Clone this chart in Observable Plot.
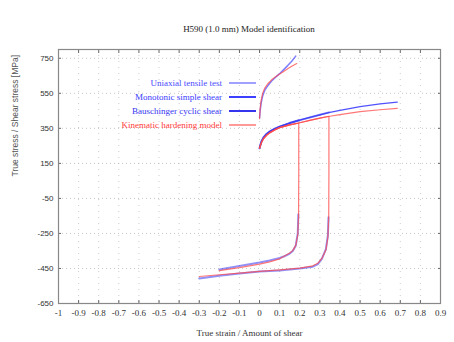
<!DOCTYPE html>
<html>
<head>
<meta charset="utf-8">
<script src="https://cdn.jsdelivr.net/npm/d3@7"></script>
<script src="https://cdn.jsdelivr.net/npm/@observablehq/plot@0.6"></script>
<style>
  body { margin: 0; background: #fff; width: 454px; height: 342px; overflow: hidden; }
  #wrap { position: relative; width: 454px; height: 342px; }
  #title { position: absolute; left: 0; width: 498px; top: 24px; text-align: center;
           font-family: "Liberation Serif", serif; font-size: 9px; color: #222; }
  #chart { position: absolute; left: 0; top: 40px; }
  #legend { position: absolute; left: 0; top: 0; width: 454px; height: 342px; pointer-events: none; }
  .lg { position: absolute; font-family: "Liberation Serif", serif; font-size: 9px; }
  .lg span.t { position: absolute; white-space: nowrap; transform: translateY(-50%); }
  .lg span.l { position: absolute; left: 229px; width: 27px; }
</style>
</head>
<body>
<div id="wrap">
  <div id="title">H590 (1.0 mm) Model identification</div>
  <div id="chart"></div>
  <div id="legend"></div>
</div>
<script>
// ---- tick values ----
const xTicks = [-1, -0.9, -0.8, -0.7, -0.6, -0.5, -0.4, -0.3, -0.2, -0.1, 0, 0.1, 0.2, 0.3, 0.4, 0.5, 0.6, 0.7, 0.8, 0.9];
const yTicks = [750, 550, 350, 150, -50, -250, -450, -650];

// ---- Uniaxial tensile test (experiment) ----
const tensileX = [0, 0.003, 0.008, 0.015, 0.025, 0.04, 0.06, 0.08, 0.1, 0.12, 0.14, 0.16, 0.18];
const tensileY = [410, 450, 495, 533, 565, 592, 620, 642, 662, 685, 708, 733, 762];
// ---- Kinematic hardening model, tensile ----
const modelTensileX = [0, 0.003, 0.008, 0.015, 0.025, 0.04, 0.06, 0.08, 0.1, 0.12, 0.14, 0.16, 0.185];
const modelTensileY = [405, 465, 510, 548, 578, 603, 627, 645, 660, 675, 690, 704, 720];

// ---- Monotonic simple shear (experiment) ----
const monoX = [0, 0.005, 0.01, 0.02, 0.035, 0.05, 0.075, 0.1, 0.15, 0.2, 0.25, 0.3, 0.35, 0.4, 0.5, 0.6, 0.685];
const monoY = [236, 258, 276, 298, 318, 331, 347, 360, 380, 397, 412, 427, 441, 452, 474, 489, 500];
// ---- Kinematic hardening model, monotonic shear ----
const modelMonoY = [236, 255, 270, 292, 310, 324, 341, 354, 370, 382, 395, 408, 419, 428, 445, 456, 464];

// ---- Bauschinger cyclic shear (experiment) ----
const cyc1LoadX = [0, 0.005, 0.01, 0.02, 0.035, 0.05, 0.075, 0.1, 0.15, 0.195];
const cyc1LoadY = [236, 258, 276, 298, 318, 331, 347, 360, 380, 396];
const cyc1RevX = [0.193, 0.19, 0.18, 0.165, 0.15, 0.12, 0.1, 0.05, 0, -0.05, -0.1, -0.15, -0.2];
const cyc1RevY = [-141, -250, -320, -350, -365, -382, -390, -404, -416, -426, -436, -446, -456];
const cyc2LoadX = [0, 0.005, 0.01, 0.02, 0.035, 0.05, 0.075, 0.1, 0.15, 0.2, 0.25, 0.3, 0.345];
const cyc2LoadY = [236, 258, 276, 298, 318, 331, 347, 360, 380, 397, 412, 427, 441];
const cyc2RevX = [0.343, 0.34, 0.33, 0.31, 0.29, 0.265, 0.2, 0.1, 0, -0.1, -0.2, -0.3];
const cyc2RevY = [-158, -260, -340, -395, -425, -440, -450, -461, -468, -479, -491, -507];

// ---- Kinematic hardening model, cyclic shear ----
const mod1X = [0, 0.005, 0.01, 0.02, 0.035, 0.05, 0.075, 0.1, 0.15, 0.195, 0.195, 0.194, 0.19, 0.18, 0.165, 0.15, 0.12, 0.1, 0.05, 0, -0.1, -0.2];
const mod1Y = [236, 255, 270, 292, 310, 324, 341, 354, 370, 379, 100, -150, -260, -318, -348, -362, -382, -395, -412, -425, -445, -462];
const mod2X = [0, 0.005, 0.01, 0.02, 0.035, 0.05, 0.075, 0.1, 0.15, 0.2, 0.25, 0.3, 0.345, 0.345, 0.344, 0.34, 0.33, 0.31, 0.29, 0.265, 0.2, 0.1, 0, -0.1, -0.2, -0.3];
const mod2Y = [236, 255, 270, 292, 310, 324, 341, 354, 370, 382, 395, 408, 419, 100, -150, -270, -345, -393, -420, -435, -448, -458, -467, -477, -486, -496];

const seriesNames = ["Uniaxial tensile test", "Monotonic simple shear", "Bauschinger cyclic shear", "Kinematic hardening model"];
const seriesColors = ["#6f6fff", "#3f3fff", "#3535f0", "#ff4a4a"];

function pts(xs, ys, id) { return xs.map((x, i) => ({x, y: ys[i], id})); }

const modelData = [
  ...pts(modelTensileX, modelTensileY, "mt"),
  ...pts(monoX, modelMonoY, "mm"),
  ...pts(mod1X, mod1Y, "m1"),
  ...pts(mod2X, mod2Y, "m2")
];
const cyclicData = [
  ...pts(cyc1LoadX, cyc1LoadY, "c1l"),
  ...pts(cyc1RevX, cyc1RevY, "c1r"),
  ...pts(cyc2LoadX, cyc2LoadY, "c2l"),
  ...pts(cyc2RevX, cyc2RevY, "c2r")
];
const tensileData = pts(tensileX, tensileY, "t");
const monoData = pts(monoX, monoY, "m");

const fmt = d => String(d);

const chart = Plot.plot({
  width: 454,
  height: 302,
  marginLeft: 58,
  marginRight: 14,
  marginTop: 9,
  marginBottom: 39,
  style: {fontFamily: "Liberation Serif, serif", fontSize: "9px", color: "#333", background: "transparent"},
  x: {domain: [-1, 0.9]},
  y: {domain: [-650, 800]},
  marks: [
    Plot.gridX(xTicks, {stroke: "#b8b8b8", strokeOpacity: 0.7, strokeDasharray: "1,5"}),
    Plot.gridY(yTicks, {stroke: "#b8b8b8", strokeOpacity: 0.8, strokeDasharray: "1,3"}),
    Plot.axisX({ticks: xTicks, anchor: "bottom", tickSize: 0, tickPadding: 6, tickFormat: fmt, label: null, fontSize: 9}),
    Plot.axisX({ticks: xTicks, anchor: "bottom", tickSize: -3, text: null, label: null, stroke: "#666"}),
    Plot.axisX({ticks: xTicks, anchor: "top", tickSize: -3, text: null, label: null, stroke: "#666"}),
    Plot.axisY({ticks: yTicks, anchor: "left", tickSize: 0, tickPadding: 5, tickFormat: fmt, label: null,
                fontFamily: "Liberation Sans, sans-serif", fontSize: 8}),
    Plot.axisY({ticks: yTicks, anchor: "left", tickSize: -3, text: null, label: null, stroke: "#666"}),
    Plot.axisY({ticks: yTicks, anchor: "right", tickSize: -3, text: null, label: null, stroke: "#666"}),
    Plot.frame({stroke: "#888", strokeWidth: 1.2}),
    Plot.line(monoData, {x: "x", y: "y", z: "id", stroke: seriesColors[1], strokeWidth: 1.3, strokeOpacity: 0.9}),
    Plot.line(tensileData, {x: "x", y: "y", z: "id", stroke: seriesColors[0], strokeWidth: 1.5, strokeOpacity: 0.9}),
    Plot.line(cyclicData, {x: "x", y: "y", z: "id", stroke: seriesColors[2], strokeWidth: 2, strokeOpacity: 0.55}),
    Plot.line(modelData, {x: "x", y: "y", z: "id", stroke: seriesColors[3], strokeWidth: 1.2, strokeOpacity: 0.75}),
    Plot.text(["True strain / Amount of shear"], {frameAnchor: "bottom", dy: 32, fontSize: 9, fill: "#333"}),
    Plot.text(["True stress / Shear stress [MPa]"], {frameAnchor: "left", dx: -43, rotate: -90,
              fontFamily: "Liberation Sans, sans-serif", fontSize: 8.5, fill: "#555"})
  ]
});
document.getElementById("chart").appendChild(chart);

// legend (HTML overlay)
const legendTop = [83, 97, 111, 125];
const legendLine = [
  {w: 2, c: "#a0a0ff"},
  {w: 1.5, c: "#3f3fff"},
  {w: 2.5, c: "#3535f0"},
  {w: 1.5, c: "#ff9a9a"}
];
const textColors = ["#4a4aff", "#3c3cff", "#3535f0", "#ff3a3a"];
const lg = document.getElementById("legend");
seriesNames.forEach((name, i) => {
  const row = document.createElement("div");
  row.className = "lg";
  row.style.top = legendTop[i] + "px";
  row.style.left = "0px";
  row.style.width = "454px";
  row.innerHTML = `<span class="t" style="color:${textColors[i]}; right:${454 - 222}px">${name}</span>` +
    `<span class="l" style="top:${-legendLine[i].w / 2}px; height:${legendLine[i].w}px; background:${legendLine[i].c}"></span>`;
  lg.appendChild(row);
});
</script>
</body>
</html>
